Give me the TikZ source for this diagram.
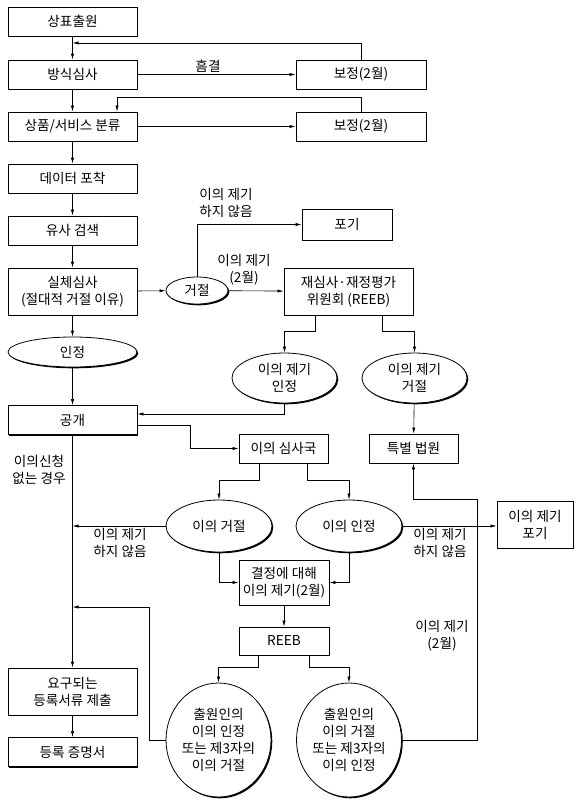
\documentclass[tikz,border=0pt]{standalone}
\usepackage{fontspec}
\setmainfont{Noto Sans CJK KR}
\usetikzlibrary{shapes.geometric,shadows,arrows.meta}

\tikzset{
  shdw/.style={drop shadow={shadow xshift=1.3pt, shadow yshift=-1.3pt, fill=black, opacity=1}},
  box/.style={draw, rectangle, fill=white, line width=0.8pt, shdw, align=center, inner sep=0pt,
    minimum width=129pt, minimum height=29pt, font=\fontsize{13.6}{17}\selectfont},
  oval/.style={draw, ellipse, fill=white, line width=0.8pt, shdw, align=center, inner sep=0pt,
    font=\fontsize{13.6}{17}\selectfont},
  lbl/.style={align=center, inner sep=0pt, font=\fontsize{13.6}{17}\selectfont},
  arr/.style={-{Latex[length=6pt,width=3.2pt]}, line width=0.6pt},
}

\begin{document}
\begin{tikzpicture}[x=1pt, y=-1pt]
            \useasboundingbox (0,0) rectangle (579,803);

            % Left column
            \node[box] (app) at (72.5, 21.5) {상표출원};
            \node[box] (form) at (72.5, 74.5) {방식심사};
            \node[box] (cls) at (72.5, 126.5) {상품/서비스 분류};
            \node[box] (data) at (72.5, 178.5) {데이터 포착};
            \node[box] (search) at (72.5, 230.5) {유사 검색};
            \node[box, minimum height=47pt] (exam) at (72.5, 291.5) {실체심사\\(절대적 거절 이유)};
            \node[oval, minimum width=129pt, minimum height=30pt] (acc) at (72.5, 352) {인정};
            \node[box] (pub) at (72.5, 420) {공개};
            \node[box, minimum height=47pt] (submit) at (72.5, 691.5) {요구되는\\등록서류 제출};
            \node[box] (cert) at (72.5, 752) {등록 증명서};

            % Correction boxes
            \node[box, minimum width=130pt] (corr1) at (361, 74.5) {보정(2월)};
            \node[box, minimum width=130pt] (corr2) at (361, 126.5) {보정(2월)};

            % Rejection and review board
            \node[oval, minimum width=62pt, minimum height=27pt] (rej) at (197, 290.5) {거절};
            \node[box, minimum width=90pt, minimum height=31pt] (give) at (347, 224.5) {포기};
            \node[box, minimum height=47pt] (reeb1) at (348.5, 291.5) {재심사·재정평가\\위원회 (REEB)};
            \node[oval, minimum width=105pt, minimum height=50pt] (oa) at (284.5, 378) {이의 제기\\인정};
            \node[oval, minimum width=105pt, minimum height=50pt] (or) at (414.5, 378) {이의 제기\\거절};
            \node[box, minimum width=89pt] (court) at (413.5, 448.5) {특별 법원};

            % Opposition
            \node[box, minimum width=89pt] (opp) at (283.5, 448.5) {이의 심사국};
            \node[oval, minimum width=106pt, minimum height=52pt] (orej) at (219, 526) {이의 거절};
            \node[oval, minimum width=106pt, minimum height=52pt] (oacc) at (349, 526) {이의 인정};
            \node[box, minimum width=76pt, minimum height=47pt] (waive) at (535, 524.5) {이의 제기\\포기};
            \node[box, minimum width=90pt, minimum height=45pt] (appeal) at (284, 582.5) {결정에 대해\\이의 제기(2월)};
            \node[box, minimum width=90pt, minimum height=28pt] (reeb2) at (284, 641) {REEB};
            \node[oval, minimum width=105pt, minimum height=114pt] (c1) at (218.5, 740) {출원인의\\이의 인정\\또는 제3자의\\이의 거절};
            \node[oval, minimum width=105pt, minimum height=114pt] (c2) at (349, 740) {출원인의\\이의 거절\\또는 제3자의\\이의 인정};

            % Junctions on the left line
            \coordinate (j1) at (72.5, 43);
            \coordinate (j2) at (117, 97);
            \coordinate (j3) at (72.5, 607);

            % Arrows
            \draw[arr] (app) -- (form);
            \draw[arr] (form) -- (cls);
            \draw[arr] (cls) -- (data);
            \draw[arr] (data) -- (search);
            \draw[arr] (search) -- (exam);
            \draw[arr] (exam) -- (acc);
            \draw[arr] (acc) -- (pub);
            \draw[arr] (pub) -- (submit);
            \draw[arr] (submit) -- (cert);

            \draw[arr] (form) -- (corr1);
            \draw[arr] (cls) -- (corr2);
            \draw[arr] (corr1.north) |- (j1);
            \draw[arr] (corr2.north) |- (j2) -- (j2 |- cls.north);

            \draw[arr] (exam) -- (rej);
            \draw[arr] (rej.north) |- (give.west);
            \draw[arr] (rej) -- (reeb1);
            \draw[arr] ([xshift=-33.5pt]reeb1.south) -- ++(0,16) -| (oa.north);
            \draw[arr] ([xshift=33.5pt]reeb1.south) -- ++(0,16) -| (or.north);
            \draw[arr] (oa.south) |- ([yshift=6pt]pub.east);
            \draw[arr] (or) -- (court);

            \draw[arr] ([yshift=-5pt]pub.east) -- ++(53,0) |- (opp.west);
            \draw[arr] ([xshift=-24.5pt]opp.south) -- ++(0,17) -| (orej.north);
            \draw[arr] ([xshift=23.5pt]opp.south) -- ++(0,17) -| (oacc.north);
            \draw[arr] (orej.west) -- (orej.west -| pub.south);
            \draw[arr] (oacc.east) -- (oacc.east -| waive.west);
            \draw[arr] (orej.south) |- (appeal.west);
            \draw[arr] (oacc.south) |- (appeal.east);
            \draw[arr] (appeal) -- (reeb2);
            \draw[arr] ([xshift=-26pt]reeb2.south) -- ++(0,12) -| (c1.north);
            \draw[arr] ([xshift=25pt]reeb2.south) -- ++(0,12) -| (c2.north);
            \draw[arr] (c1.west) -- ++(-16,0) |- (j3);
            \draw[arr] (c2.east) -- ++(75,0) |- ([yshift=-36pt]court.south) -- (court.south);

            % Labels
            \node[lbl] (l1) at (208, 66) {흠결};
            \node[lbl] (l2) at (226, 203) {이의 제기\\하지 않음};
            \node[lbl] (l3) at (244, 270) {이의 제기\\(2월)};
            \node[lbl] (l4) at (39, 470) {이의신청\\없는 경우};
            \node[lbl] (l5) at (120, 543) {이의 제기\\하지 않음};
            \node[lbl] (l6) at (440, 543) {이의 제기\\하지 않음};
            \node[lbl] (l7) at (442, 636) {이의 제기\\(2월)};
        \end{tikzpicture}
\end{document}
